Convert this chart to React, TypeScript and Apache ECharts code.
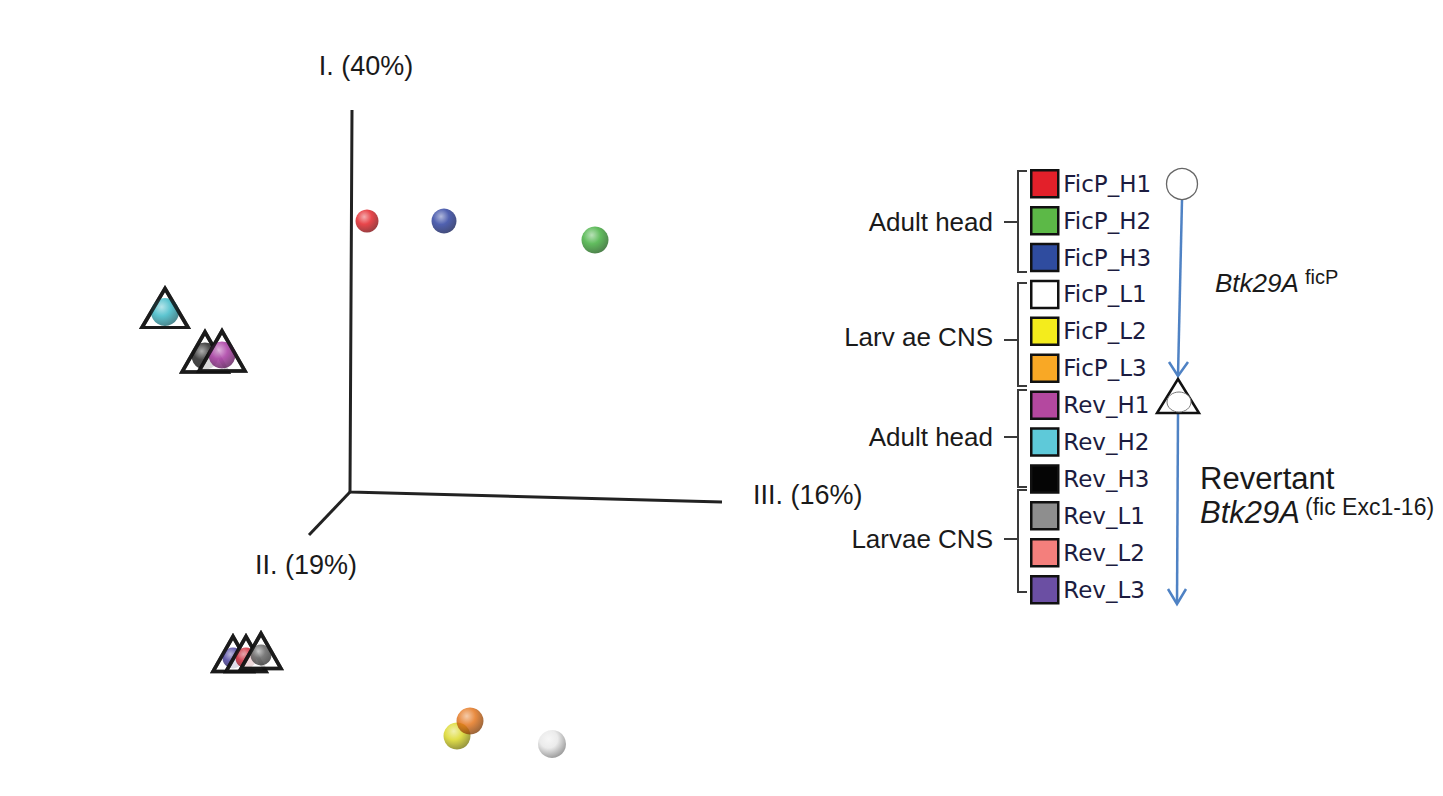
import React, { useEffect, useRef } from "react";
import * as echarts from "echarts";

const W = 1443;
const H = 796;

// Samples (legend order)
const sampleNames = [
  "FicP_H1", "FicP_H2", "FicP_H3", "FicP_L1", "FicP_L2", "FicP_L3",
  "Rev_H1", "Rev_H2", "Rev_H3", "Rev_L1", "Rev_L2", "Rev_L3",
];
// Projected PCA positions (figure units)
const sampleX = [367, 595, 444, 552, 457, 470, 222, 165, 205, 261, 246, 233];
const sampleY = [221, 240, 221, 744, 736, 721, 355, 312, 356, 655, 658, 658];
const isRevertant = [false, false, false, false, false, false, true, true, true, true, true, true];

// Styles
const legendColors = [
  "#e3202a", "#5cb947", "#2f4c9f", "#ffffff", "#f4ec1c", "#f9a825",
  "#b4489f", "#5ec9d9", "#050505", "#8e8e8e", "#f47f7c", "#6b4fa3",
];
const ballBase = [
  "#e2181e", "#3aac36", "#24399c", "#e6e6e6", "#d9d61c", "#e36f12",
  "#a4309e", "#34b6c4", "#1a1a1a", "#5c5c5c", "#cf2030", "#43399b",
];
const ballSize = [23, 27, 25, 28, 27, 27, 27, 28, 27, 21, 21, 21];
const triSize: number[][] = [[], [], [], [], [], [], [46, 40], [46, 39], [46, 40], [40, 35], [40, 35], [40, 35]];
const seriesZ = [2, 2, 2, 2, 2, 2, 4, 2, 3, 6, 5, 4];

// PCA axes (projection of the three components)
const axisOrigin = [350, 492];
const axisEndI = [352, 110];
const axisEndIII = [722, 502];
const axisEndII = [309, 535];

// Legend groups
const groupLabels = ["Adult head", "Larv ae CNS", "Adult head", "Larvae CNS"];
const groupTickY = [222, 340, 437, 539];
const groupSpan = [[171, 272], [283, 386], [390, 487], [490, 592]];

function mix(hex: string, target: number, t: number) {
  const n = parseInt(hex.slice(1), 16);
  const r = (n >> 16) & 255, g = (n >> 8) & 255, b = n & 255;
  const f = (c: number) => Math.round(c + (target - c) * t);
  return `rgb(${f(r)},${f(g)},${f(b)})`;
}

function ball(base: string) {
  return new echarts.graphic.RadialGradient(0.38, 0.32, 0.72, [
    { offset: 0, color: mix(base, 255, 0.55) },
    { offset: 0.45, color: base },
    { offset: 1, color: mix(base, 0, 0.45) },
  ]);
}

export default function App() {
  const ref = useRef<HTMLDivElement>(null);
  useEffect(() => {
    if (!ref.current) return;
    const chart = echarts.init(ref.current, null, { renderer: "svg" });

    const series: any[] = [
      {
        type: "line",
        silent: true,
        symbol: "none",
        z: 1,
        lineStyle: { color: "#222", width: 3 },
        data: [axisEndI, axisOrigin, axisEndIII],
      },
      {
        type: "line",
        silent: true,
        symbol: "none",
        z: 1,
        lineStyle: { color: "#222", width: 3 },
        data: [axisOrigin, axisEndII],
      },
    ];

    sampleNames.forEach((name, i) => {
      const pt = [sampleX[i], sampleY[i]];
      const ballItem = {
        value: pt,
        symbol: "circle",
        symbolSize: ballSize[i],
        itemStyle: { color: ball(ballBase[i]), borderWidth: 0 },
      };
      let data: any[];
      if (isRevertant[i]) {
        const ts = triSize[i];
        const off = [0, -4];
        data = [
          {
            value: pt,
            symbol: "triangle",
            symbolSize: ts,
            symbolOffset: off,
            itemStyle: { color: "#ffffff", borderColor: "#111", borderWidth: 3.5 },
          },
          ballItem,
          {
            value: pt,
            symbol: "triangle",
            symbolSize: ts,
            symbolOffset: off,
            itemStyle: { color: "rgba(0,0,0,0)", borderColor: "#111", borderWidth: 3.5 },
          },
        ];
      } else {
        data = [ballItem];
      }
      series.push({
        type: "scatter",
        name,
        z: seriesZ[i],
        silent: true,
        itemStyle: { color: legendColors[i] },
        data,
      });
    });

    const txt = (x: number, y: number, text: string, size: number, align: string, italic = false) => ({
      type: "text",
      x,
      y,
      silent: true,
      style: {
        text,
        fill: "#1a1a1a",
        font: `${italic ? "italic " : ""}${size}px "Liberation Sans", Arial, sans-serif`,
        textAlign: align,
        textVerticalAlign: "middle",
      },
    });

    const graphics: any[] = [
      txt(366, 66, "I. (40%)", 27, "center"),
      txt(753, 495, "III. (16%)", 27, "left"),
      txt(255, 565, "II. (19%)", 27, "left"),
    ];

    const gy = [222, 337, 437, 539];
    groupLabels.forEach((g, k) => {
      graphics.push(txt(993, gy[k], g, 26, "right"));
      const [y0, y1] = groupSpan[k];
      graphics.push({
        type: "polyline",
        silent: true,
        shape: { points: [[1027, y0], [1018, y0], [1018, y1], [1027, y1]] },
        style: { stroke: "#3a3a3a", lineWidth: 2, fill: null },
      });
      graphics.push({
        type: "line",
        silent: true,
        shape: { x1: 1004, y1: groupTickY[k], x2: 1018, y2: groupTickY[k] },
        style: { stroke: "#3a3a3a", lineWidth: 2 },
      });
    });

    const blue = "#4f82c4";
    graphics.push(
      {
        type: "line", silent: true,
        shape: { x1: 1182, y1: 200, x2: 1178, y2: 376 },
        style: { stroke: blue, lineWidth: 2.5 },
      },
      {
        type: "polyline", silent: true,
        shape: { points: [[1169, 362], [1178, 376], [1188, 362]] },
        style: { stroke: blue, lineWidth: 2.5, fill: null },
      },
      {
        type: "circle", silent: true,
        shape: { cx: 1182, cy: 184, r: 15.5 },
        style: { fill: "#fff", stroke: "#666", lineWidth: 1.3 },
      },
      {
        type: "line", silent: true,
        shape: { x1: 1178, y1: 413, x2: 1177, y2: 603 },
        style: { stroke: blue, lineWidth: 2.5 },
      },
      {
        type: "polyline", silent: true,
        shape: { points: [[1168, 589], [1177, 604], [1186, 589]] },
        style: { stroke: blue, lineWidth: 2.5, fill: null },
      },
      {
        type: "polygon", silent: true,
        shape: { points: [[1178, 379], [1199, 413], [1157, 413]] },
        style: { fill: "#fff", stroke: "#111", lineWidth: 2.5 },
      },
      {
        type: "ellipse", silent: true,
        shape: { cx: 1179, cy: 402, rx: 12, ry: 10 },
        style: { fill: "#fff", stroke: "#777", lineWidth: 1 },
      },
      txt(1215, 283, "Btk29A", 26, "left", true),
      txt(1305, 277, "ficP", 20, "left"),
      txt(1200, 478, "Revertant", 31, "left"),
      txt(1200, 512, "Btk29A", 31, "left", true),
      txt(1305, 507, "(fic Exc1-16)", 23, "left")
    );

    chart.setOption({
      animation: false,
      backgroundColor: "#ffffff",
      grid: { left: 0, right: 0, top: 0, bottom: 0, containLabel: false },
      xAxis: { type: "value", min: 0, max: W, show: false },
      yAxis: { type: "value", min: 0, max: H, inverse: true, show: false },
      legend: {
        orient: "vertical",
        left: 1030,
        top: 169,
        padding: 0,
        itemWidth: 27,
        itemHeight: 27,
        itemGap: 7.4,
        selectedMode: false,
        icon: "rect",
        textStyle: { fontFamily: "DejaVu Sans", fontSize: 23, lineHeight: 27, color: "#1c1c40" },
        data: sampleNames.map((n, i) => ({
          name: n,
          icon: "rect",
          itemStyle: { color: legendColors[i], borderColor: "#111", borderWidth: 2.5, opacity: 1 },
        })),
      },
      graphic: graphics,
      series,
    });
    return () => chart.dispose();
  }, []);
  return (
    <div
      ref={ref}
      style={{ position: "fixed", left: 0, top: 0, width: W, height: H, background: "#fff" }}
    />
  );
}
